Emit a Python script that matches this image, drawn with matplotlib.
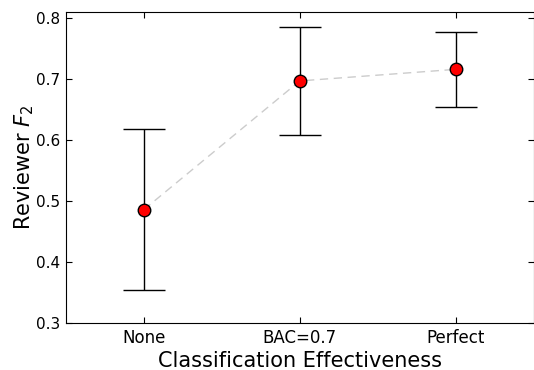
import numpy as np
import matplotlib
matplotlib.use("Agg")
import matplotlib.pyplot as plt

categories = ['None', 'BAC=0.7', 'Perfect']
f2_mean = [0.486, 0.697, 0.716]
f2_err = [0.132, 0.089, 0.061]

fig = plt.figure(figsize=(5.34, 3.70), dpi=100)
ax = fig.add_axes([0.1236, 0.127, 0.8755, 0.8405])

x = np.arange(len(categories))
ax.plot(x, f2_mean, '--', color='#cccccc', lw=1, dashes=(6, 4), zorder=1)
ax.errorbar(x, f2_mean, yerr=f2_err, fmt='o', color='black', ecolor='black',
            markerfacecolor='red', markeredgecolor='black', markersize=9,
            capsize=15, capthick=1, elinewidth=1, zorder=2)

ax.set_xlim(-0.5, 2.5)
ax.set_ylim(0.3, 0.81)
ax.set_xticks(x)
ax.set_xticklabels(categories, fontsize=12)
ax.set_yticks([0.3, 0.4, 0.5, 0.6, 0.7, 0.8])
ax.tick_params(axis='y', labelsize=11)
ax.tick_params(direction='in', top=True, right=True, length=4, pad=4)
ax.set_xlabel('Classification Effectiveness', fontsize=15, labelpad=3)
ax.set_ylabel('Reviewer $F_2$', fontsize=15, labelpad=0)

plt.savefig('out.png', dpi=100)
